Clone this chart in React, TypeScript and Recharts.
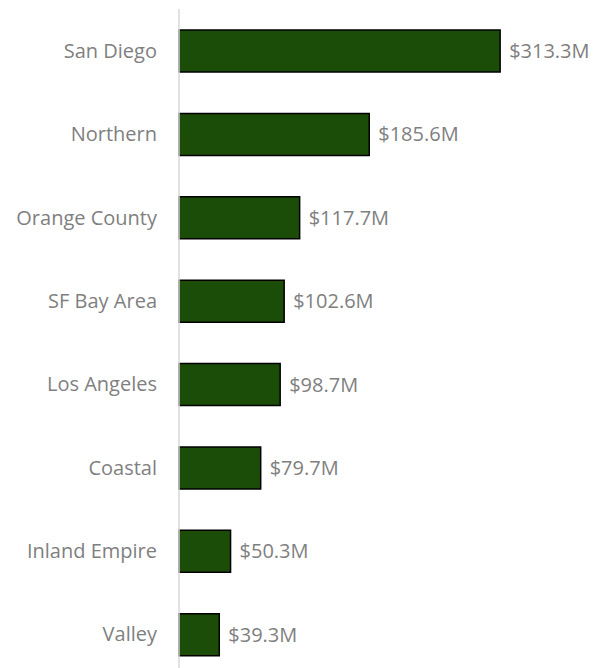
import { BarChart, Bar, XAxis, YAxis, LabelList } from "recharts";

const regions = [
  "San Diego",
  "Northern",
  "Orange County",
  "SF Bay Area",
  "Los Angeles",
  "Coastal",
  "Inland Empire",
  "Valley",
];

const amounts = [313.3, 185.6, 117.7, 102.6, 98.7, 79.7, 50.3, 39.3];

const chartData = regions.map((region, i) => ({ region, amount: amounts[i] }));

const FONT = "'Open Sans', sans-serif";

export default function App() {
  return (
    <div
      style={{
        position: "absolute",
        top: 0,
        left: 0,
        width: 600,
        height: 668,
        overflow: "hidden",
        background: "#fff",
      }}
    >
      <BarChart
        width={600}
        height={676}
        data={chartData}
        layout="vertical"
        margin={{ top: 9, right: 11, bottom: 0, left: 0 }}
      >
        <XAxis type="number" domain={[0, 400]} hide />
        <YAxis
          type="category"
          dataKey="region"
          width={179}
          tickLine={false}
          tickSize={0}
          tickMargin={22}
          axisLine={{ stroke: "#d9d9d9", strokeWidth: 1.5 }}
          tick={{ fill: "#7f7f7f", fontSize: 20, fontFamily: FONT }}
        />
        <Bar
          dataKey="amount"
          fill="#1c4d08"
          stroke="#000"
          strokeWidth={1.5}
          barSize={42}
          isAnimationActive={false}
        >
          <LabelList
            dataKey="amount"
            position="right"
            offset={9}
            formatter={(v: number) => `$${v.toFixed(1)}M`}
            style={{ fill: "#7f7f7f", fontSize: 20, fontFamily: FONT }}
          />
        </Bar>
      </BarChart>
    </div>
  );
}
